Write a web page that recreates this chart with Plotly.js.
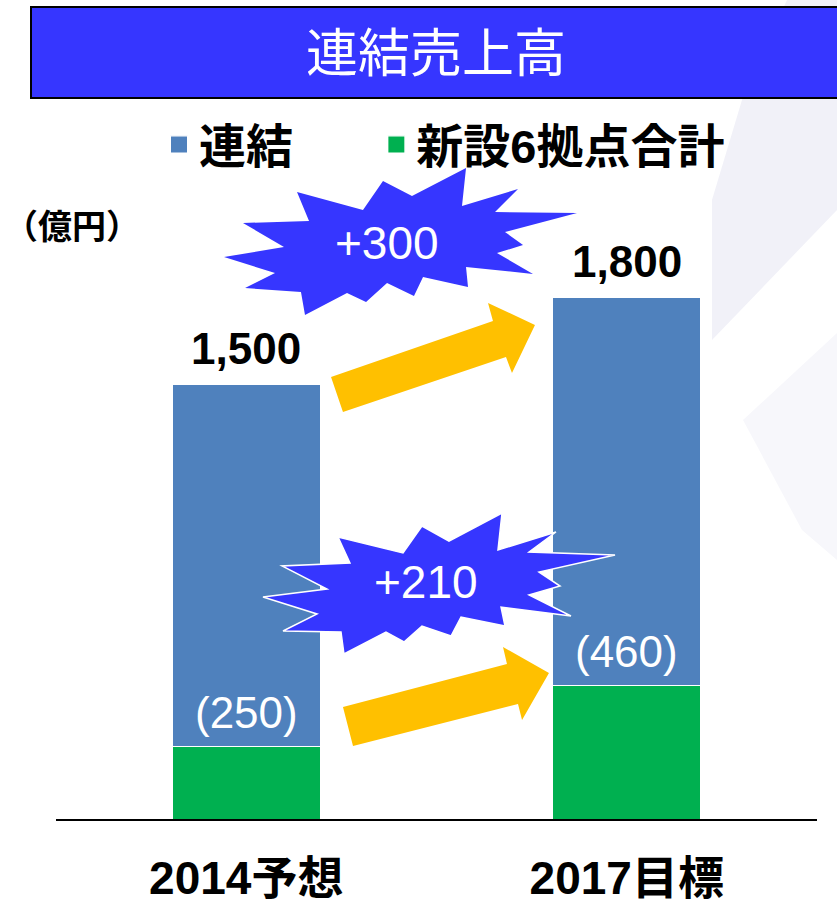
<!DOCTYPE html>
<html><head><meta charset="utf-8">
<script src="https://cdn.plot.ly/plotly-3.0.1.min.js"></script>
<style>html,body{margin:0;padding:0;background:#fff}</style>
</head><body>
<div id="chart" style="width:837px;height:903px"></div>
<script>
// ---- data ----
const categories = ['2014予想', '2017目標'];
const consolidatedTotal = [1500, 1800];   // 連結
const newSites = [250, 460];               // 新設6拠点合計
const seriesNames = ['連結', '新設6拠点合計'];
const titleText = '連結売上高';
const unitText = '（億円）';

const otherPart = consolidatedTotal.map((v, i) => v - newSites[i]);
const fmt = v => v.toLocaleString('en-US');

// ---- geometry helpers (decoration only) ----
const W = 837, H = 903, ML = 56, MR = 20, MT = 240, MB = 84;
const PW = W - ML - MR, PH = H - MT - MB;
const px = x => (x - ML) / PW;
const py = y => (H - MB - y) / PH;
const path = pts => 'M' + pts.map(p => px(p[0]).toFixed(4) + ',' + py(p[1]).toFixed(4)).join('L') + 'Z';

const FONT = '"Liberation Sans", Arial, "Noto Sans CJK JP", sans-serif';
const BLUE = '#4F81BD', GREEN = '#00B050', BURST = '#3636FF', ARROW = '#FFC000';

const burst1 = [[297,192],[363,210],[383,181],[412,196],[466,168],[462,206],[518,189],[495,212],[577,213],[505,232],[523,245],[497,253],[533,274],[466,267],[468,287],[423,277],[414,296],[387,283],[366,302],[347,293],[305,315],[301,292],[245,288],[275,273],[224,257],[284,247],[243,223],[309,221]];
const burst2 = [[338,537],[350,563],[282,566],[327,589],[263,597],[317,614],[283,631],[341,632],[344,654],[386,632],[404,642],[422,626],[451,636],[461,617],[505,626],[501,607],[571,616],[529,595],[560,586],[539,572],[615,555],[529,552],[556,532],[498,550],[502,513],[449,541],[422,526],[403,553]];
const arrow1 = [[331,377],[493,321],[488,303],[535,325],[512,373],[506,357],[343,412]];
const arrow2 = [[343,707],[507,664],[503,647],[549,673],[522,720],[518,704],[353,746]];

const shapes = [
  // faint background decoration
  {type:'path', xref:'paper', yref:'paper', layer:'below', line:{width:0}, fillcolor:'#F1F1F8',
   path: path([[787,0],[837,0],[837,210],[712,340],[712,200],[745,90]])},
  {type:'path', xref:'paper', yref:'paper', layer:'below', line:{width:0}, fillcolor:'#F7F7FB',
   path: path([[743,420],[837,333],[837,560],[802,530]])},
  // title box
  {type:'rect', xref:'paper', yref:'paper', layer:'below', x0:px(31), x1:px(845), y0:py(98), y1:py(7),
   fillcolor:'#3636FF', line:{color:'#000', width:2}},
  // arrows
  {type:'path', xref:'paper', yref:'paper', layer:'above', line:{width:0}, fillcolor:ARROW, path:path(arrow1)},
  {type:'path', xref:'paper', yref:'paper', layer:'above', line:{width:0}, fillcolor:ARROW, path:path(arrow2)},
  // starbursts
  {type:'path', xref:'paper', yref:'paper', layer:'above', line:{width:0}, fillcolor:BURST, path:path(burst1)},
  {type:'path', xref:'paper', yref:'paper', layer:'above', line:{width:1.5, color:'#fff'}, fillcolor:BURST, path:path(burst2)}
];

const annotations = [];
categories.forEach((c, i) => {
  annotations.push({x:c, y:consolidatedTotal[i], xref:'x', yref:'y', text:fmt(consolidatedTotal[i]), showarrow:false,
    yanchor:'bottom', yshift:10, font:{family:FONT, size:44, color:'#000', weight:'bold'}});
  annotations.push({x:c, y:newSites[i], xref:'x', yref:'y', text:'(' + fmt(newSites[i]) + ')', showarrow:false,
    yanchor:'bottom', yshift:8, font:{family:FONT, size:44, color:'#fff'}});
});
annotations.push({x:px(387), y:py(243), xref:'paper', yref:'paper', xanchor:'center', yanchor:'middle', showarrow:false,
  text:'+' + fmt(consolidatedTotal[1] - consolidatedTotal[0]), font:{family:FONT, size:46, color:'#fff'}});
annotations.push({x:px(426), y:py(582), xref:'paper', yref:'paper', xanchor:'center', yanchor:'middle', showarrow:false,
  text:'+' + fmt(newSites[1] - newSites[0]), font:{family:FONT, size:46, color:'#fff'}});
annotations.push({x:px(2), y:py(227), xref:'paper', yref:'paper', xanchor:'left', yanchor:'middle', showarrow:false,
  text:unitText, font:{family:FONT, size:34, color:'#000', weight:'bold'}});

const NBSP = '\u00a0';
const traces = [
  {type:'bar', x:categories, y:newSites, name:seriesNames[1], legendrank:2,
   marker:{color:GREEN, line:{color:'#fff', width:1}}, width:0.39, hoverinfo:'none'},
  {type:'bar', x:categories, y:otherPart, name:seriesNames[0] + NBSP.repeat(6), legendrank:1,
   marker:{color:BLUE, line:{color:'#fff', width:1}}, width:0.39, hoverinfo:'none'}
];

const layout = {
  width:W, height:H, margin:{l:ML, r:MR, t:MT, b:MB},
  paper_bgcolor:'rgba(0,0,0,0)', plot_bgcolor:'rgba(0,0,0,0)',
  barmode:'stack',
  title:{text:titleText, x:436 / W, xanchor:'center', xref:'container', y:1 - 54/H, yanchor:'middle',
         font:{family:'"Noto Sans CJK JP", sans-serif', size:52, color:'#fff'}},
  xaxis:{range:[-0.5, 1.5], showline:true, linecolor:'#000', linewidth:2, showgrid:false, zeroline:false,
         ticks:'outside', ticklen:18, tickcolor:'rgba(0,0,0,0)',
         tickfont:{family:FONT, size:46, color:'#000', weight:'bold'}},
  yaxis:{range:[0, 2000], visible:false, fixedrange:true},
  showlegend:true,
  legend:{orientation:'h', traceorder:'normal', x:px(159), xanchor:'left', y:py(145), yanchor:'middle', yref:'paper',
          font:{family:FONT, size:47, color:'#000', weight:'bold'},
          bgcolor:'rgba(0,0,0,0)', itemclick:false},
  shapes, annotations
};

Plotly.newPlot('chart', traces, layout, {displayModeBar:false, staticPlot:true}).then(gd => {
  gd.querySelectorAll('.legend .legendpoints path').forEach(p => {
    p.setAttribute('transform', (p.getAttribute('transform') || '') + ' scale(1.45)');
  });
});
</script>
</body></html>
